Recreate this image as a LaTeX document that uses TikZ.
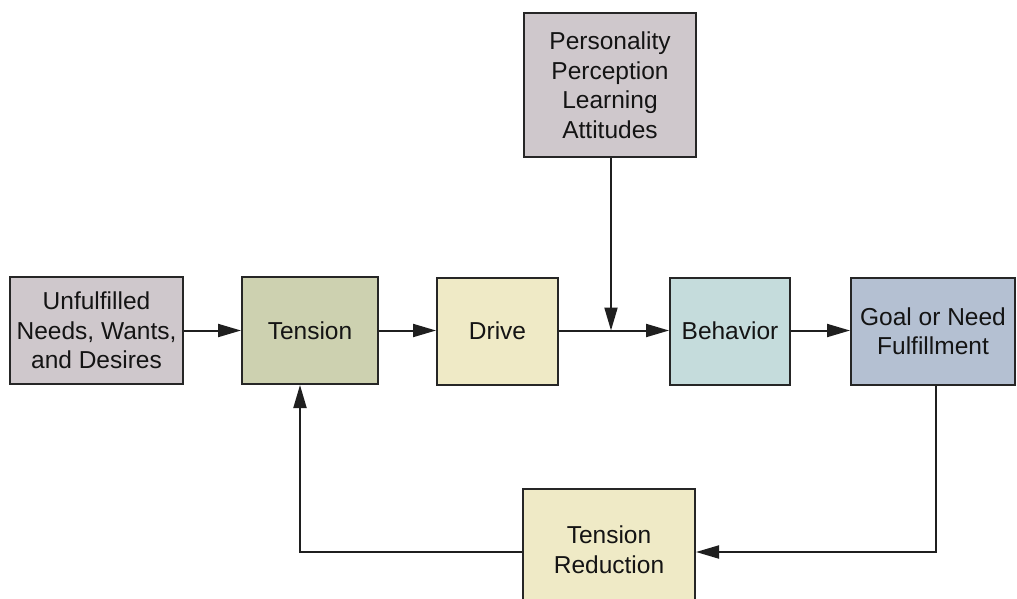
\documentclass[tikz,border=0pt]{standalone}
\usepackage{fontspec}
\setmainfont{Liberation Sans}
\usetikzlibrary{arrows.meta,calc}
\definecolor{cmauve}{HTML}{CFC8CC}
\definecolor{colive}{HTML}{CDD1B0}
\definecolor{ccream}{HTML}{EFEAC6}
\definecolor{cteal}{HTML}{C5DCDC}
\definecolor{cblue}{HTML}{B4C0D2}
\definecolor{cborder}{HTML}{262626}
\tikzset{
  box/.style={draw=cborder, line width=2pt, rectangle, align=center, inner sep=0pt,
    font=\fontsize{24.5}{29.5}\selectfont, text=black!92},
  conn/.style={draw=black!88, line width=2pt},
  arr/.style={conn, -{Triangle[length=23pt,width=13pt]}}
}
\begin{document}
\begin{tikzpicture}[x=1pt,y=-1pt]
\clip (0,0) rectangle (1017,598);
\fill[white] (0,0) rectangle (1017,598);
\node[box, fill=cmauve, minimum width=173pt, minimum height=107pt] (un) at (96.5,330.5) {Unfulfilled\\Needs, Wants,\\and Desires};
\node[box, fill=colive, minimum width=136pt, minimum height=107pt] (ten) at (310,330.5) {Tension};
\node[box, fill=ccream, minimum width=121pt, minimum height=107pt] (drv) at (497.5,331) {Drive};
\node[box, fill=cmauve, minimum width=172pt, minimum height=144pt] (per) at (610,85) {Personality\\Perception\\Learning\\Attitudes};
\node[box, fill=cteal, minimum width=120pt, minimum height=107pt] (beh) at (730,331) {Behavior};
\node[box, fill=cblue, minimum width=164pt, minimum height=107pt] (goal) at (933,331) {Goal or Need\\Fulfillment};
\node[box, fill=ccream, minimum width=172pt, minimum height=121pt] (tr) at (609,549.5) {Tension\\Reduction};
\coordinate (j) at (611,330.5);
\draw[arr] (un.east |- 0,330.5) -- (ten.west |- 0,330.5);
\draw[arr] (ten.east |- 0,330.5) -- (drv.west |- 0,330.5);
\draw[conn] (drv.east |- j) -- (j);
\draw[arr] (j) -- (beh.west |- j);
\draw[arr] (per.south -| j) -- (j);
\draw[arr] (beh.east |- j) -- (goal.west |- j);
\coordinate (rc) at (936,552);
\coordinate (lc) at (300,552);
\draw[arr] ([xshift=3pt]goal.south) -- (rc) -- (tr.east |- rc);
\draw[arr] (tr.west |- lc) -- (lc) -- (ten.south -| lc);
\end{tikzpicture}
\end{document}
